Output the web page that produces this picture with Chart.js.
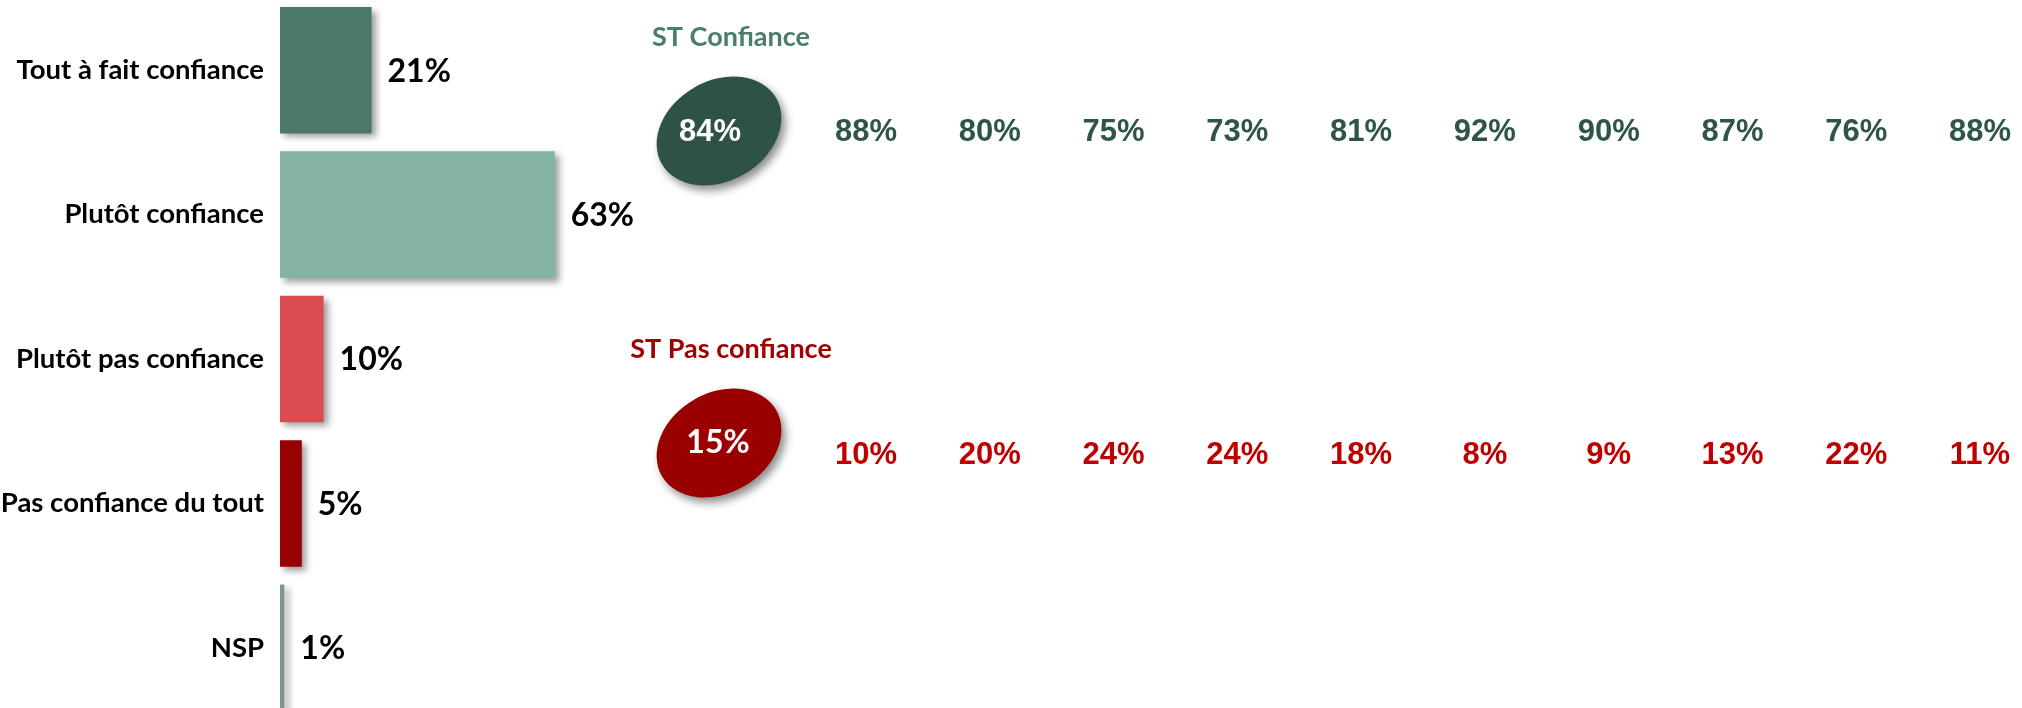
<!DOCTYPE html>
<html>
<head>
<meta charset="utf-8">
<script src="https://cdn.jsdelivr.net/npm/chart.js@4.4.1/dist/chart.umd.min.js"></script>
<style>
  html, body { margin: 0; padding: 0; background: #ffffff; overflow: hidden; }
  body { width: 2022px; height: 708px; position: relative; }
  canvas { position: absolute; }
  #bars { left: 0px; top: -2px; }
  #totals { left: 599px; top: 0px; }
  #groups { left: 805px; top: 0px; }
</style>
</head>
<body>
<canvas id="bars" width="716" height="722"></canvas>
<canvas id="totals" width="240" height="708"></canvas>
<canvas id="groups" width="1217" height="708"></canvas>
<script>
// ---------- DATA ----------
const categories = ['Tout à fait confiance', 'Plutôt confiance', 'Plutôt pas confiance', 'Pas confiance du tout', 'NSP'];
const distribution = [21, 63, 10, 5, 1];
const rowLabels = ['ST Confiance', 'ST Pas confiance'];
const totals = [84, 15];
const stConfiance = [88, 80, 75, 73, 81, 92, 90, 87, 76, 88];
const stPasConfiance = [10, 20, 24, 24, 18, 8, 9, 13, 22, 11];

// ---------- STYLES ----------
const barColors = ['#4a7969', '#82b4a1', '#d94c4f', '#990000', '#7b9696'];
const ellipseColors = ['#2e5244', '#990000'];
const titleColors = ['#4b7d6c', '#a00000'];
const numberColors = ['#2f5548', '#c00000'];
const LATO = 'Lato, "Open Sans", sans-serif';
const ARIAL = '"Liberation Sans", Arial, sans-serif';

function draw() {
  Chart.defaults.font.family = LATO;

  const shadowPlugin = {
    id: 'barShadow',
    beforeDatasetsDraw(chart) {
      const ctx = chart.ctx;
      ctx.save();
      ctx.shadowColor = 'rgba(0,0,0,0.40)';
      ctx.shadowBlur = 7;
      ctx.shadowOffsetX = 4;
      ctx.shadowOffsetY = 4;
    },
    afterDatasetsDraw(chart) {
      chart.ctx.restore();
      const ctx = chart.ctx;
      const meta = chart.getDatasetMeta(0);
      ctx.save();
      ctx.font = 'bold 32px ' + LATO;
      ctx.fillStyle = '#000000';
      ctx.textAlign = 'left';
      ctx.textBaseline = 'middle';
      meta.data.forEach((bar, i) => {
        ctx.fillText(distribution[i] + '%', bar.x + 16, bar.y + 1);
      });
      ctx.restore();
    }
  };

  new Chart(document.getElementById('bars'), {
    type: 'bar',
    data: {
      labels: categories,
      datasets: [{
        data: distribution,
        backgroundColor: barColors,
        borderWidth: 0,
        categoryPercentage: 1,
        barPercentage: 0.876
      }]
    },
    options: {
      indexAxis: 'y',
      responsive: false,
      animation: false,
      events: [],
      layout: { padding: 0 },
      plugins: { legend: { display: false }, tooltip: { enabled: false } },
      scales: {
        x: { type: 'linear', min: 0, max: 100, display: false },
        y: {
          type: 'category',
          grid: { display: false, drawTicks: false },
          border: { display: false },
          ticks: {
            padding: 16,
            color: '#000000',
            font: { family: LATO, weight: 'bold', size: 27.5 }
          },
          afterFit(scale) {
            scale.width = 280;
            scale.paddingTop = 0;
            scale.paddingBottom = 0;
          }
        }
      }
    },
    plugins: [shadowPlugin]
  });

  // ---------- Totals (ellipses) ----------
  const ellipsePlugin = {
    id: 'ellipses',
    afterDatasetsDraw(chart) {
      const ctx = chart.ctx;
      const meta = chart.getDatasetMeta(0);
      meta.data.forEach((pt, i) => {
        const x = pt.x, y = pt.y;
        ctx.save();
        ctx.shadowColor = 'rgba(0,0,0,0.45)';
        ctx.shadowBlur = 8;
        ctx.shadowOffsetX = 4;
        ctx.shadowOffsetY = 5;
        ctx.beginPath();
        ctx.ellipse(x, y, 66, 50, -Math.PI / 6, 0, Math.PI * 2);
        ctx.fillStyle = ellipseColors[i];
        ctx.fill();
        ctx.restore();

        ctx.save();
        ctx.fillStyle = '#ffffff';
        ctx.textAlign = 'center';
        ctx.textBaseline = 'middle';
        if (i === 0) {
          ctx.font = 'bold 31px ' + ARIAL;
          ctx.fillText(totals[i] + '%', x - 9, y + 1);
        } else {
          ctx.font = 'bold 32px ' + LATO;
          ctx.fillText(totals[i] + '%', x - 1, y);
        }
        // row title above
        ctx.font = 'bold 27px ' + LATO;
        ctx.fillStyle = titleColors[i];
        ctx.fillText(rowLabels[i], x + 12, y - 94);
        ctx.restore();
      });
    }
  };

  new Chart(document.getElementById('totals'), {
    type: 'scatter',
    data: {
      datasets: [{
        data: totals.map((v, i) => ({ x: 0, y: i })),
        pointRadius: 0
      }]
    },
    options: {
      responsive: false,
      animation: false,
      events: [],
      layout: { padding: { top: 131, bottom: 265, left: 0, right: 0 } },
      plugins: { legend: { display: false }, tooltip: { enabled: false } },
      scales: {
        x: { type: 'linear', min: -1, max: 1, display: false },
        y: { type: 'linear', min: 0, max: 1, reverse: true, display: false }
      }
    },
    plugins: [ellipsePlugin]
  });

  // ---------- Sub-groups ----------
  const groupRows = [stConfiance, stPasConfiance];
  const numbersPlugin = {
    id: 'numbers',
    afterDatasetsDraw(chart) {
      const ctx = chart.ctx;
      ctx.save();
      ctx.font = 'bold 31px ' + ARIAL;
      ctx.textAlign = 'center';
      ctx.textBaseline = 'middle';
      chart.data.datasets.forEach((ds, r) => {
        ctx.fillStyle = numberColors[r];
        chart.getDatasetMeta(r).data.forEach((pt, j) => {
          ctx.fillText(groupRows[r][j] + '%', pt.x, pt.y + 1);
        });
      });
      ctx.restore();
    }
  };

  new Chart(document.getElementById('groups'), {
    type: 'scatter',
    data: {
      datasets: groupRows.map((row, r) => ({
        label: rowLabels[r],
        data: row.map((v, j) => ({ x: j, y: r })),
        pointRadius: 0
      }))
    },
    options: {
      responsive: false,
      animation: false,
      events: [],
      layout: { padding: { top: 131, bottom: 254, left: 61, right: 42 } },
      plugins: { legend: { display: false }, tooltip: { enabled: false } },
      scales: {
        x: { type: 'linear', min: 0, max: 9, display: false },
        y: { type: 'linear', min: 0, max: 1, reverse: true, display: false }
      }
    },
    plugins: [numbersPlugin]
  });
}

Promise.all([
  document.fonts.load('bold 27.5px Lato'),
  document.fonts.load('bold 32px Lato'),
  document.fonts.load('bold 31px "Liberation Sans"')
]).then(draw, draw);
</script>
</body>
</html>
